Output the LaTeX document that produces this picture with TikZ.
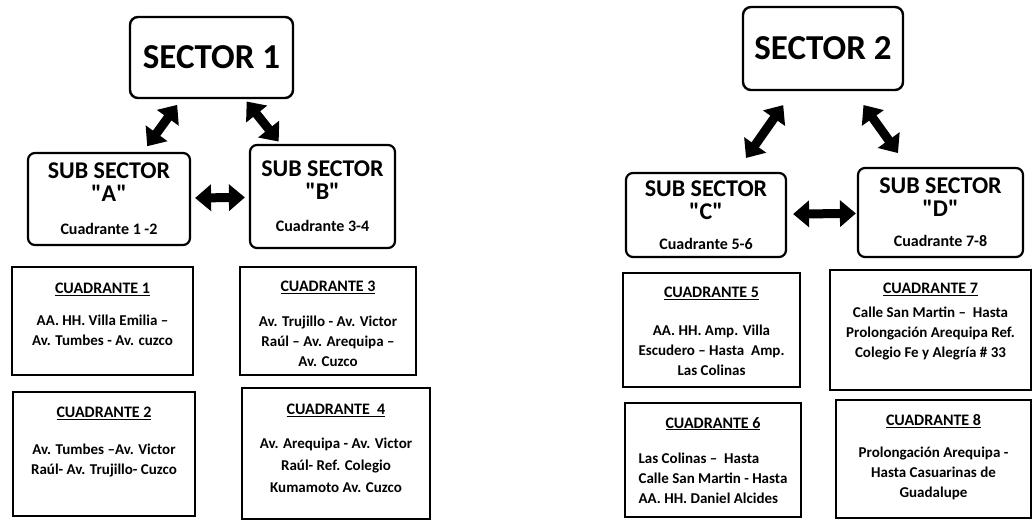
\documentclass[tikz,border=0pt]{standalone}
\usepackage{fontspec}
\setmainfont{Carlito}
\usepackage{tikz}
\usetikzlibrary{arrows.meta}
\tikzset{every node/.append style={font=\bfseries}}
\newcommand\cuadsmall{\fontsize{16}{18}\selectfont}
\newcommand\qq[1]{\textquotedbl#1\textquotedbl}
\newcommand\cuadhead[1]{{\fontsize{16}{20}\selectfont\underline{#1}}}

\begin{document}
\begin{tikzpicture}[x=1pt,y=-1pt,
  secbox/.style={draw,rounded corners=8pt,line width=2.4pt,
    font=\fontsize{35}{40}\selectfont\bfseries},
  subbox/.style={draw,rounded corners=7pt,line width=2.2pt,align=center,
    font=\fontsize{24}{23}\selectfont\bfseries},
  cuadbox/.style={draw,line width=2.6pt},
  cuadtxt/.style={anchor=north,align=center,
    font=\fontsize{15}{20}\selectfont\bfseries},
  dblarrow/.style={{Triangle[width=26pt,length=16pt]}-{Triangle[width=26pt,length=16pt]},
    line width=9pt}]
  \useasboundingbox (0,0) rectangle (1033,521);
  % Sector 1
  \node[secbox,minimum width=163,minimum height=81] (s1) at (211.5,57.5) {SECTOR 1};
  \node[subbox,minimum width=162,minimum height=92] (a) at (109,199)
    {SUB SECTOR\\ \qq{A}\\[10pt] {\cuadsmall Cuadrante 1 -2}};
  \node[subbox,minimum width=145,minimum height=103] (b) at (322.5,196.5)
    {SUB SECTOR\\ \qq{B}\\[9pt] {\cuadsmall Cuadrante 3-4}};
  \draw[dblarrow,shorten <=7pt,shorten >=7pt] (s1) -- (a);
  \draw[dblarrow,shorten <=3pt,shorten >=3pt] (s1) -- (b);
  \draw[dblarrow,shorten <=4pt,shorten >=4pt] (a) -- (b);
  \node[cuadbox,minimum width=181,minimum height=108] (q1) at (102.5,321) {};
  \node[cuadbox,minimum width=176,minimum height=108] (q3) at (328,321) {};
  \node[cuadbox,minimum width=182,minimum height=124] (q2) at (104,454) {};
  \node[cuadbox,minimum width=188,minimum height=131] (q4) at (336,453.5) {};
  \node[cuadtxt] (q1t) at ([yshift=-14pt]q1.north)
    {\cuadhead{CUADRANTE 1}\\[12pt] AA. HH. Villa Emilia --\\ Av. Tumbes - Av. cuzco};
  \node[cuadtxt] (q3t) at ([yshift=-12pt]q3.north)
    {\cuadhead{CUADRANTE 3}\\[15pt] Av. Trujillo - Av. Victor\\ Raúl -- Av. Arequipa --\\ Av. Cuzco};
  \node[cuadtxt] (q2t) at ([yshift=-13pt]q2.north)
    {\cuadhead{CUADRANTE 2}\\[17pt] Av. Tumbes --Av. Victor\\ Raúl- Av. Trujillo- Cuzco};
  \node[cuadtxt] (q4t) at ([yshift=-14pt]q4.north)
    {\cuadhead{CUADRANTE\ \ 4}\\[14pt] Av. Arequipa - Av. Victor\\[2pt] Raúl- Ref. Colegio\\[2pt] Kumamoto Av. Cuzco};
  % Sector 2
  \node[secbox,minimum width=160,minimum height=83] (s2) at (823,48.5) {SECTOR 2};
  \node[subbox,minimum width=160,minimum height=84] (c) at (706,215)
    {SUB SECTOR\\ \qq{C}\\[7pt] {\cuadsmall Cuadrante 5-6}};
  \node[subbox,minimum width=165,minimum height=89] (d) at (940.5,212.5)
    {SUB SECTOR\\ \qq{D}\\[7pt] {\cuadsmall Cuadrante 7-8}};
  \draw[dblarrow,shorten <=17pt,shorten >=17pt] (s2) -- (c);
  \draw[dblarrow,shorten <=17pt,shorten >=17pt] (s2) -- (d);
  \draw[dblarrow,shorten <=6pt,shorten >=1pt] (c) -- (d);
  \node[cuadbox,minimum width=177,minimum height=114] (q5) at (711.5,330) {};
  \node[cuadbox,minimum width=201,minimum height=120] (q7) at (930.5,330) {};
  \node[cuadbox,minimum width=176,minimum height=114] (q6) at (713,460) {};
  \node[cuadbox,minimum width=195,minimum height=118] (q8) at (933.5,459) {};
  \node[cuadtxt] (q5t) at ([yshift=-12pt]q5.north)
    {\cuadhead{CUADRANTE 5}\\[18pt] AA. HH. Amp. Villa\\ Escudero -- Hasta\ \ Amp.\\ Las Colinas};
  \node[cuadtxt] (q7t) at ([yshift=-11pt]q7.north)
    {\cuadhead{CUADRANTE 7}\\[4pt] Calle San Martin -- \ Hasta\\ Prolongación Arequipa Ref.\\ Colegio Fe y Alegría \# 33};
  \node[cuadtxt] (q6t) at ([yshift=-12pt]q6.north)
    {\cuadhead{CUADRANTE 6}\\[18pt]
     \begin{tabular}{@{}l@{}}Las Colinas -- \ Hasta\\ Calle San Martin - Hasta\\ AA. HH. Daniel Alcides\end{tabular}};
  \node[cuadtxt] (q8t) at ([yshift=-12pt]q8.north)
    {\cuadhead{CUADRANTE 8}\\[12pt] Prolongación Arequipa -\\ Hasta Casuarinas de\\ Guadalupe};
\end{tikzpicture}
\end{document}
